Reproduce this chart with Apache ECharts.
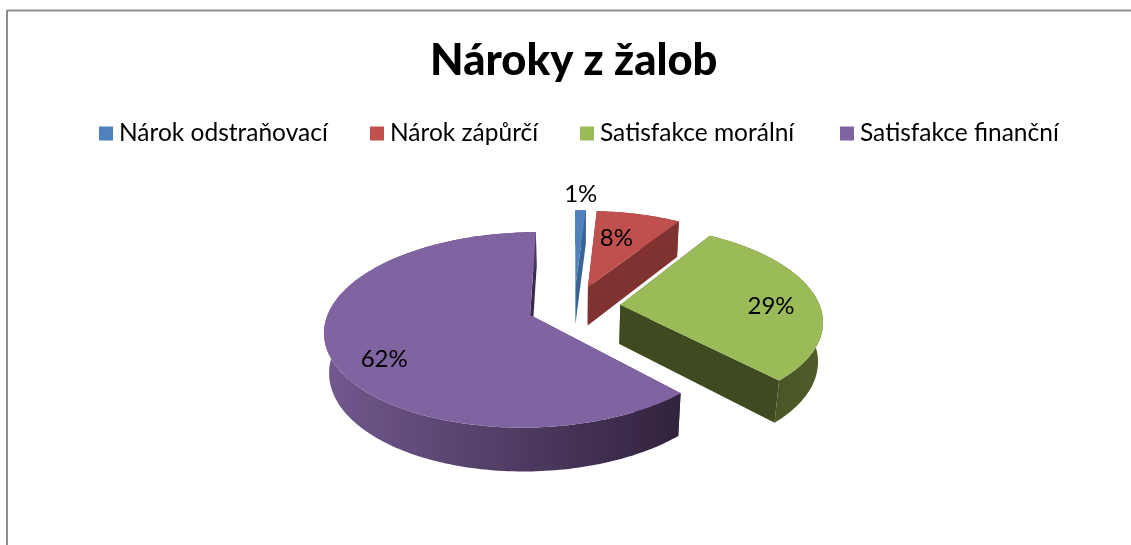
<!DOCTYPE html>
<html>
<head>
<meta charset="utf-8">
<style>html,body{margin:0;padding:0;background:#fff}#c{width:1131px;height:545px}</style>
<script src="https://cdn.jsdelivr.net/npm/echarts@6/dist/echarts.min.js"></script>
</head>
<body>
<div id="c"></div>
<script>
const titleText = 'Nároky z žalob';
const categories = ['Nárok odstraňovací', 'Nárok zápůrčí', 'Satisfakce morální', 'Satisfakce finanční'];
const values = [1, 8, 29, 62];
const topColors = ['#4f81bd', '#c0504d', '#9bbb59', '#8064a2'];
const faceColors = ['#3a6396', '#7f3230', '#3f4a21', '#3a2a4c'];
const wallLeft = ['#3a6396', '#7f3230', '#3f4a21', '#72598f'];
const wallRight = ['#3a6396', '#7f3230', '#4f5e2a', '#31223d'];
const labelOffsets = [[0.034, -1.25], [0.166, -0.615], [0.755, 0.01], [-0.6585, 0.434]];
const legendLefts = [99, 370, 580, 840];

const VX = 574, VY = 307, R = 200, T = 93, K = 0.15, EXPLODE = 0.233, DEPTH = 40, ZK = 0.02;
const total = values.reduce((a, b) => a + b, 0);
const starts = [];
values.reduce((acc, v, i) => { starts[i] = acc; return acc + v; }, 0);

function project(X, Y, low) {
  const w = 1 - K * Y + (low ? ZK : 0);
  return [VX + R * X / w, VY + (T * Y + (low ? DEPTH : 0)) / w];
}
function renderSlice(idx) {
  return function (params, api) {
    const v = api.value(0);
    const a0 = starts[idx] / total * 2 * Math.PI;
    const a1 = a0 + v / total * 2 * Math.PI;
    const mid = (a0 + a1) / 2;
    const cx = EXPLODE * Math.sin(mid), cy = -EXPLODE * Math.cos(mid);
    const steps = Math.max(4, Math.ceil((a1 - a0) / 0.02));
    const arc = [];
    for (let i = 0; i <= steps; i++) {
      const a = a0 + (a1 - a0) * i / steps;
      arc.push([cx + Math.sin(a), cy - Math.cos(a)]);
    }
    const top = arc.map(p => project(p[0], p[1], false));
    const low = arc.map(p => project(p[0], p[1], true));
    const apexT = project(cx, cy, false), apexL = project(cx, cy, true);
    const wallFill = new echarts.graphic.LinearGradient(0, 0, 1, 0, [
      { offset: 0, color: wallLeft[idx] }, { offset: 1, color: wallRight[idx] }]);
    const children = [
      { type: 'polygon', shape: { points: [apexT, top[0], low[0], apexL] }, style: { fill: faceColors[idx] } },
      { type: 'polygon', shape: { points: [apexT, top[steps], low[steps], apexL] }, style: { fill: faceColors[idx] } },
      { type: 'polygon', shape: { points: top.concat(low.slice().reverse()) }, style: { fill: wallFill } },
      { type: 'polygon', shape: { points: [apexT].concat(top) }, style: { fill: topColors[idx] } }
    ];
    const off = labelOffsets[idx];
    const lp = project(cx + off[0], cy + off[1], false);
    children.push({
      type: 'text', z2: 10,
      style: { text: v + '%', x: lp[0], y: lp[1], align: 'center', verticalAlign: 'middle',
        fill: '#000', font: '24px Lato' }
    });
    return { type: 'group', children };
  };
}

const chart = echarts.init(document.getElementById('c'), null, { renderer: 'canvas' });
chart.setOption({
  animation: false,
  backgroundColor: '#fff',
  title: {
    text: titleText, left: 430, top: 39, padding: 0,
    textStyle: { fontFamily: 'Lato', fontWeight: 900, fontSize: 43.5, color: '#000' }
  },
  legend: categories.map((name, i) => ({
    data: [name], left: legendLefts[i], top: 121, padding: 0, icon: 'rect',
    itemWidth: 14, itemHeight: 14, selectedMode: false,
    textStyle: { fontFamily: 'Lato', fontSize: 24.5, color: '#000', padding: [0, 0, 0, 1] }
  })),
  graphic: [
    { type: 'line', shape: { x1: 7, y1: 10.5, x2: 1131, y2: 10.5 }, style: { stroke: '#8e8e8e', lineWidth: 2 } },
    { type: 'line', shape: { x1: 7, y1: 10, x2: 7, y2: 545 }, style: { stroke: '#8e8e8e', lineWidth: 2 } }
  ],
  series: categories.map((name, i) => ({
    type: 'custom', name, coordinateSystem: 'none', silent: true,
    itemStyle: { color: topColors[i] },
    data: [[values[i]]],
    renderItem: renderSlice(i),
    z: i === 3 ? 3 : i
  }))
});
</script>
</body>
</html>
